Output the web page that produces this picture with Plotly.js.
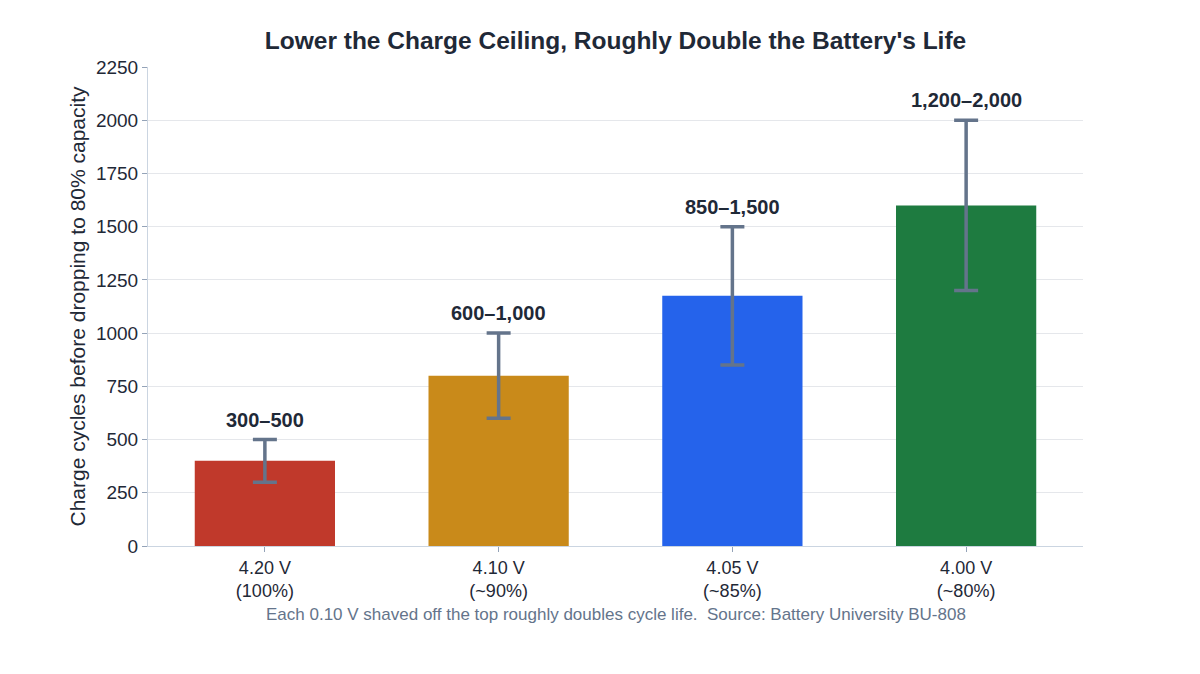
<!DOCTYPE html>
<html>
<head>
<meta charset="utf-8">
<script src="https://cdn.plot.ly/plotly-3.0.1.min.js"></script>
<style>
  html, body { margin: 0; padding: 0; background: #ffffff; }
  #chart { width: 1200px; height: 674px; }
</style>
</head>
<body>
<div id="chart"></div>
<script>
// Charge ceiling voltage and the typical cycle-life range at each level
const categories = ["4.20 V<br>(100%)", "4.10 V<br>(~90%)", "4.05 V<br>(~85%)", "4.00 V<br>(~80%)"];
const cyclesLow = [300, 600, 850, 1200];
const cyclesHigh = [500, 1000, 1500, 2000];
const rangeLabels = ["300–500", "600–1,000", "850–1,500", "1,200–2,000"];
const barColors = ["#c0392b", "#c98a1a", "#2563eb", "#1e7b40"];

// Bar height is the middle of each range; error bars span the range
const midpoints = cyclesLow.map((lo, i) => (lo + cyclesHigh[i]) / 2);
const errPlus = cyclesHigh.map((hi, i) => hi - midpoints[i]);
const errMinus = cyclesLow.map((lo, i) => midpoints[i] - lo);

const FONT = "Liberation Sans, Arial, sans-serif";

const trace = {
  type: "bar",
  x: categories,
  y: midpoints,
  width: 0.6,
  marker: { color: barColors, line: { width: 0 } },
  error_y: {
    type: "data",
    symmetric: false,
    array: errPlus,
    arrayminus: errMinus,
    color: "#64748b",
    thickness: 3.5,
    width: 12
  },
  hoverinfo: "skip"
};

const annotations = categories.map((c, i) => ({
  x: c,
  y: cyclesHigh[i],
  xref: "x",
  yref: "y",
  text: "<b>" + rangeLabels[i] + "</b>",
  showarrow: false,
  yanchor: "bottom",
  yshift: 7,
  font: { family: FONT, size: 20, color: "#1f2937" }
}));

annotations.push({
  xref: "paper",
  yref: "paper",
  x: 0.5,
  y: -0.12,
  xanchor: "center",
  yanchor: "top",
  showarrow: false,
  text: "Each 0.10 V shaved off the top roughly doubles cycle life.  Source: Battery University BU-808",
  font: { family: FONT, size: 17, color: "#64748b" }
});

const layout = {
  width: 1200,
  height: 674,
  paper_bgcolor: "#ffffff",
  plot_bgcolor: "#ffffff",
  margin: { l: 148, r: 117, t: 67, b: 128 },
  font: { family: FONT, color: "#1f2937" },
  title: {
    text: "<b>Lower the Charge Ceiling, Roughly Double the Battery's Life</b>",
    x: 0.5,
    xref: "paper",
    xanchor: "center",
    y: 0.94,
    yref: "container",
    yanchor: "middle",
    font: { family: FONT, size: 24.5, color: "#1f2937" }
  },
  xaxis: {
    type: "category",
    range: [-0.5, 3.5],
    showline: true,
    linecolor: "#cbd5e1",
    linewidth: 1,
    ticks: "outside",
    ticklen: 5,
    tickcolor: "#94a3b8",
    tickfont: { size: 18, color: "#1f2937" },
    showgrid: false
  },
  yaxis: {
    range: [0, 2250],
    dtick: 250,
    showline: true,
    linecolor: "#cbd5e1",
    linewidth: 1,
    ticks: "outside",
    ticklen: 5,
    tickcolor: "#94a3b8",
    tickfont: { size: 19, color: "#1f2937" },
    gridcolor: "#e5e7eb",
    gridwidth: 1,
    zeroline: false,
    title: {
      text: "Charge cycles before dropping to 80% capacity",
      font: { size: 21, color: "#1f2937" },
      standoff: 4
    }
  },
  showlegend: false,
  annotations: annotations
};

Plotly.newPlot("chart", [trace], layout, { displayModeBar: false, staticPlot: true });
</script>
</body>
</html>
